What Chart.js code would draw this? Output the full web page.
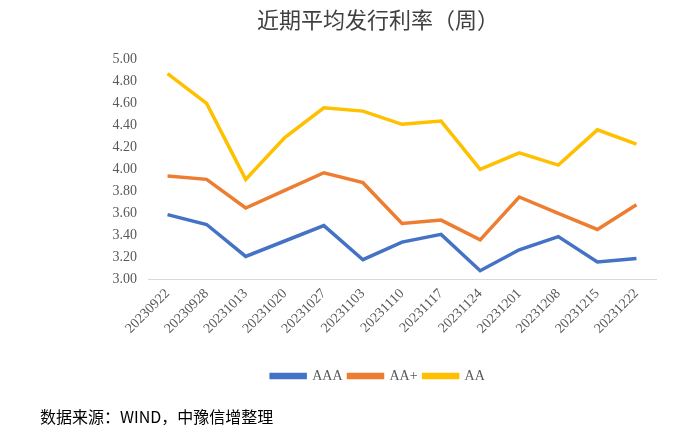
<!DOCTYPE html>
<html>
<head>
<meta charset="utf-8">
<script src="https://cdn.jsdelivr.net/npm/chart.js@4"></script>
<style>
  html, body { margin: 0; padding: 0; background: #fff; }
  #wrap { position: relative; width: 688px; height: 438px; }
  #laerret { position: absolute; left: 0; top: 0; }
  #kjelde { position: absolute; left: 40px; top: 404px; font: 16px "Noto Sans CJK SC", sans-serif; color: #000; }
</style>
</head>
<body>
<div id="wrap">
  <canvas id="laerret" width="688" height="438"></canvas>
  <div id="kjelde">数据来源：WIND，中豫信增整理</div>
</div>
<script>
// Data lese av biletet
var datoar = ['20230922', '20230928', '20231013', '20231020', '20231027', '20231103', '20231110', '20231117', '20231124', '20231201', '20231208', '20231215', '20231222'];
var aaa = [3.59, 3.50, 3.21, 3.35, 3.49, 3.18, 3.34, 3.41, 3.08, 3.27, 3.39, 3.16, 3.19];
var aaPluss = [3.94, 3.91, 3.65, 3.81, 3.97, 3.88, 3.51, 3.54, 3.36, 3.75, 3.60, 3.455, 3.68];
var aa = [4.87, 4.60, 3.91, 4.29, 4.56, 4.53, 4.41, 4.44, 4.00, 4.15, 4.04, 4.36, 4.23];
var serieNamn = ['AAA', 'AA+', 'AA'];
var fargar = ['#4472C4', '#ED7D31', '#FFC000'];

function gel(id) {
    return document.getElementById(id);
}

function lagSerie(i, verdiar) {
    return {
        label: serieNamn[i],
        data: verdiar,
        borderColor: fargar[i],
        backgroundColor: fargar[i],
        borderWidth: 3.5,
        pointRadius: 0,
        tension: 0
    };
}

var tekstFont = { family: '"Liberation Serif", serif', size: 14 };

new Chart(gel('laerret').getContext('2d'), {
    type: 'line',
    data: {
        labels: datoar,
        datasets: [lagSerie(0, aaa), lagSerie(1, aaPluss), lagSerie(2, aa)]
    },
    options: {
        responsive: false,
        animation: false,
        layout: { padding: { left: 100, right: 32, top: 0, bottom: 45 } },
        plugins: {
            title: {
                display: true,
                text: '近期平均发行利率（周）',
                color: '#404040',
                font: { family: '"Noto Sans CJK SC", sans-serif', size: 22, weight: 'normal' },
                padding: { top: 6, bottom: 27 }
            },
            legend: {
                position: 'bottom',
                labels: {
                    boxWidth: 34,
                    boxHeight: 3,
                    padding: 6,
                    color: '#595959',
                    font: tekstFont
                }
            },
            tooltip: { enabled: false }
        },
        scales: {
            x: {
                offset: true,
                grid: { display: false, drawTicks: false },
                border: { display: true, color: '#d9d9d9', width: 1 },
                ticks: {
                    color: '#595959',
                    font: tekstFont,
                    minRotation: 45,
                    maxRotation: 45,
                    padding: 6,
                    autoSkip: false
                },
                afterFit: function (skala) { skala.height += 20; }
            },
            y: {
                min: 3,
                max: 5,
                grid: { display: false, drawTicks: false },
                border: { display: false },
                ticks: {
                    stepSize: 0.2,
                    color: '#595959',
                    font: tekstFont,
                    padding: 11,
                    callback: function (v) { return Number(v).toFixed(2); }
                },
                afterFit: function (skala) { skala.width = 48; }
            }
        }
    }
});
</script>
</body>
</html>
